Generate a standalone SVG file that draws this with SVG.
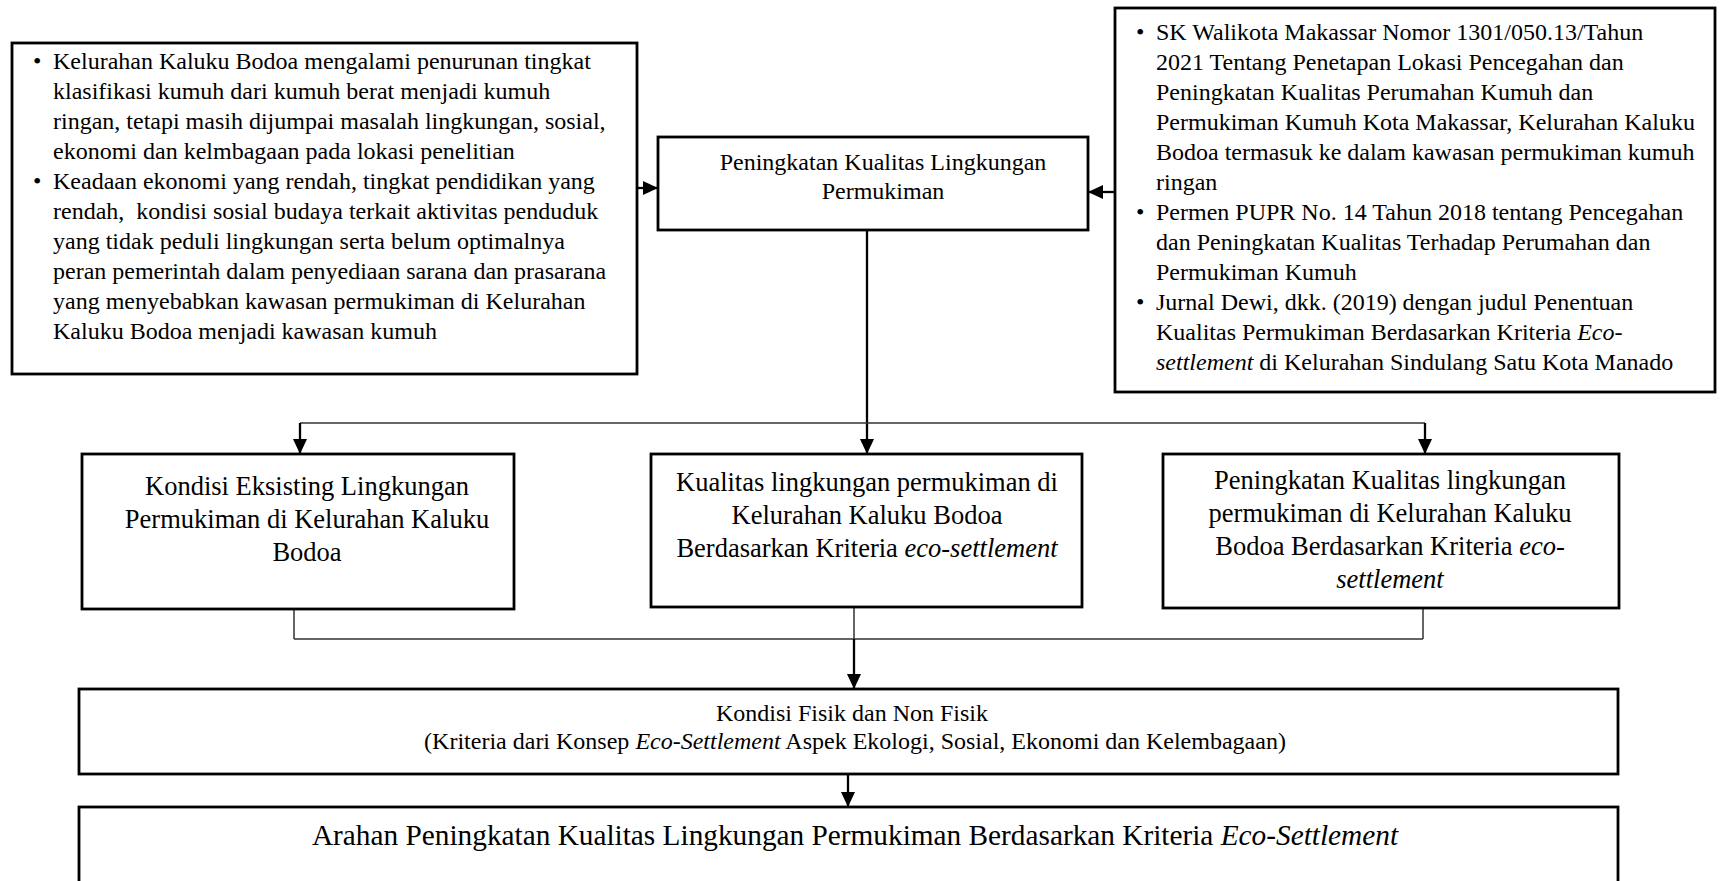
<svg xmlns="http://www.w3.org/2000/svg" width="1723" height="881" viewBox="0 0 1723 881">
<defs>
<style>
.box{fill:#fff;stroke:#000;stroke-width:2.8}
.t{font-family:"Liberation Serif","Times New Roman",serif;fill:#000}
.s24{font-size:24px}
.s26{font-size:26.5px}
.s29{font-size:29.3px}
.c{text-anchor:middle}
.i{font-style:italic}
.arr{fill:none;stroke:#000;stroke-width:2.3}
.thin{fill:none;stroke:#333;stroke-width:1.5}
</style>
<marker id="ah" viewBox="0 0 15 14" refX="15" refY="7" markerWidth="15" markerHeight="14" markerUnits="userSpaceOnUse" orient="auto">
<path d="M0,0 L15,7 L0,14 Z" fill="#000"/>
</marker>
</defs>
<rect width="1723" height="881" fill="#fff"/>

<g id="connectors">
<path class="arr" d="M637,188 H658" marker-end="url(#ah)"/>
<path class="arr" d="M1114,192 H1088" marker-end="url(#ah)"/>
<path class="arr" d="M867,230 V454" marker-end="url(#ah)"/>
<path class="thin" d="M300,423 H1425"/>
<path class="arr" d="M300,423 V454" marker-end="url(#ah)"/>
<path class="arr" d="M1425,423 V454" marker-end="url(#ah)"/>
<path class="thin" d="M294,609 V639 M854,607 V639 M1423,608 V639 M294,639 H1423"/>
<path class="arr" d="M854,639 V689" marker-end="url(#ah)"/>
<path class="arr" d="M848,774 V807" marker-end="url(#ah)"/>
</g>

<g id="left-box">
<rect class="box" x="12" y="43" width="625" height="331"/>
<g class="t s24">
<text x="33" y="69">•</text>
<text x="53" y="69">Kelurahan Kaluku Bodoa mengalami penurunan tingkat</text>
<text x="53" y="99">klasifikasi kumuh dari kumuh berat menjadi kumuh</text>
<text x="53" y="129">ringan, tetapi masih dijumpai masalah lingkungan, sosial,</text>
<text x="53" y="159">ekonomi dan kelmbagaan pada lokasi penelitian</text>
<text x="33" y="189">•</text>
<text x="53" y="189">Keadaan ekonomi yang rendah, tingkat pendidikan yang</text>
<text x="53" y="219" xml:space="preserve">rendah,  kondisi sosial budaya terkait aktivitas penduduk</text>
<text x="53" y="249">yang tidak peduli lingkungan serta belum optimalnya</text>
<text x="53" y="279">peran pemerintah dalam penyediaan sarana dan prasarana</text>
<text x="53" y="309">yang menyebabkan kawasan permukiman di Kelurahan</text>
<text x="53" y="339">Kaluku Bodoa menjadi kawasan kumuh</text>
</g>
</g>

<g id="center-box">
<rect class="box" x="658" y="137" width="430" height="93"/>
<text class="t s24 c" x="883" y="170">Peningkatan Kualitas Lingkungan</text>
<text class="t s24 c" x="883" y="199">Permukiman</text>
</g>

<g id="right-box">
<rect class="box" x="1115" y="8" width="600" height="384"/>
<g class="t s24">
<text x="1136" y="40">•</text>
<text x="1156" y="40">SK Walikota Makassar Nomor 1301/050.13/Tahun</text>
<text x="1156" y="70">2021 Tentang Penetapan Lokasi Pencegahan dan</text>
<text x="1156" y="100">Peningkatan Kualitas Perumahan Kumuh dan</text>
<text x="1156" y="130">Permukiman Kumuh Kota Makassar, Kelurahan Kaluku</text>
<text x="1156" y="160">Bodoa termasuk ke dalam kawasan permukiman kumuh</text>
<text x="1156" y="190">ringan</text>
<text x="1136" y="220">•</text>
<text x="1156" y="220">Permen PUPR No. 14 Tahun 2018 tentang Pencegahan</text>
<text x="1156" y="250">dan Peningkatan Kualitas Terhadap Perumahan dan</text>
<text x="1156" y="280">Permukiman Kumuh</text>
<text x="1136" y="310">•</text>
<text x="1156" y="310">Jurnal Dewi, dkk. (2019) dengan judul Penentuan</text>
<text x="1156" y="340">Kualitas Permukiman Berdasarkan Kriteria <tspan class="i">Eco-</tspan></text>
<text x="1156" y="370"><tspan class="i">settlement</tspan> di Kelurahan Sindulang Satu Kota Manado</text>
</g>
</g>

<g id="box-kondisi-eksisting">
<rect class="box" x="82" y="454" width="432" height="155"/>
<g class="t s26 c">
<text x="307" y="495">Kondisi Eksisting Lingkungan</text>
<text x="307" y="528">Permukiman di Kelurahan Kaluku</text>
<text x="307" y="561">Bodoa</text>
</g>
</g>

<g id="box-kualitas">
<rect class="box" x="651" y="454" width="431" height="153"/>
<g class="t s26 c">
<text x="867" y="491">Kualitas lingkungan permukiman di</text>
<text x="867" y="524">Kelurahan Kaluku Bodoa</text>
<text x="867" y="557">Berdasarkan Kriteria <tspan class="i">eco-settlement</tspan></text>
</g>
</g>

<g id="box-peningkatan">
<rect class="box" x="1163" y="454" width="456" height="154"/>
<g class="t s26 c">
<text x="1390" y="489">Peningkatan Kualitas lingkungan</text>
<text x="1390" y="522">permukiman di Kelurahan Kaluku</text>
<text x="1390" y="555">Bodoa Berdasarkan Kriteria <tspan class="i">eco-</tspan></text>
<text x="1390" y="588" class="i">settlement</text>
</g>
</g>

<g id="box-kondisi-fisik">
<rect class="box" x="79" y="689" width="1539" height="85"/>
<g class="t s24 c">
<text x="852" y="721">Kondisi Fisik dan Non Fisik</text>
<text x="855" y="749">(Kriteria dari Konsep <tspan class="i">Eco-Settlement</tspan> Aspek Ekologi, Sosial, Ekonomi dan Kelembagaan)</text>
</g>
</g>

<g id="box-arahan">
<rect class="box" x="79" y="807" width="1539" height="100"/>
<text class="t s29 c" x="855" y="845">Arahan Peningkatan Kualitas Lingkungan Permukiman Berdasarkan Kriteria <tspan class="i">Eco-Settlement</tspan></text>
</g>
</svg>
